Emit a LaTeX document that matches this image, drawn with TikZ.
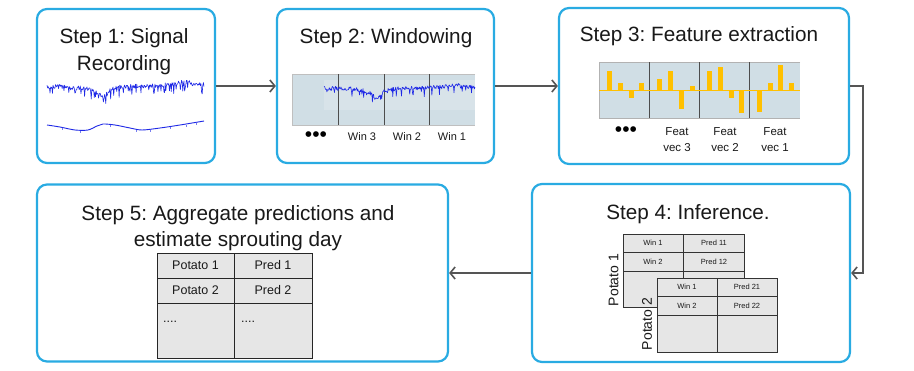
\documentclass[tikz,border=0pt]{standalone}
\usepackage{fontspec}
\setmainfont{Liberation Sans}
\usetikzlibrary{arrows.meta}
\definecolor{boxc}{RGB}{41,171,226}
\definecolor{arrc}{RGB}{85,85,85}
\definecolor{sigc}{RGB}{30,40,230}
\definecolor{panelc}{RGB}{208,222,229}
\definecolor{barc}{RGB}{255,192,0}
\definecolor{cellc}{RGB}{230,230,230}
\definecolor{txtc}{RGB}{25,25,25}
\frenchspacing
\begin{document}
\begin{tikzpicture}[x=1pt,y=-1pt,
  stepbox/.style={draw=boxc, line width=2.2pt, rounded corners=10pt, inner sep=0pt, fill=white},
  title/.style={font=\fontsize{20.7}{25}\selectfont, text=txtc, anchor=base, inner sep=0pt},
  arr/.style={draw=arrc, line width=1.6pt, -{Straight Barb[length=5pt,width=12pt]}},
  sig/.style={draw=sigc, line width=0.6pt, line join=round},
  lbl/.style={font=\fontsize{11}{13}\selectfont, text=txtc, inner sep=0pt},
  flbl/.style={font=\fontsize{11.5}{16}\selectfont, text=txtc, inner sep=0pt, align=center},
  dotlbl/.style={font=\fontsize{21}{22}\selectfont, text=black, inner sep=0pt},
  tiny/.style={font=\fontsize{7.5}{9}\selectfont, text=txtc, inner sep=0pt},
  potl/.style={font=\fontsize{14}{16}\selectfont, text=txtc, inner sep=0pt, rotate=90},
  cell/.style={font=\fontsize{12.5}{14}\selectfont, text=txtc, inner sep=0pt},
  grid/.style={draw=black!80, line width=0.7pt}
]
\pgfmathsetseed{7}
\useasboundingbox (0,0) rectangle (914,370);

% ---- step boxes
\node[stepbox, minimum width=178pt, minimum height=154pt] (s1) at (126,86) {};
\node[stepbox, minimum width=217pt, minimum height=154pt] (s2) at (385.5,86) {};
\node[stepbox, minimum width=290pt, minimum height=156pt] (s3) at (704,86) {};
\node[stepbox, minimum width=318pt, minimum height=178pt] (s4) at (691,273) {};
\node[stepbox, minimum width=411pt, minimum height=177pt] (s5) at (242.5,273) {};

% ---- connectors
\draw[arr] (s1.east) -- (s2.west);
\draw[arr] (s2.east) -- (s3.west);
\draw[arr] (s3.east) -- ++(13,0) |- (s4.east);
\draw[arr] (s4.west) -- (s5.east);

% ---- titles
\node[title] (t1a) at (124,43.5) {Step 1: Signal};
\node[title] (t1b) at (124,70) {Recording};
\node[title] (t2) at (386,43.5) {Step 2: Windowing};
\node[title] (t3) at (699,41) {Step 3: Feature extraction};
\node[title] (t4) at (688,219) {Step 4: Inference.};
\node[title] (t5a) at (238,220) {Step 5: Aggregate predictions and};
\node[title] (t5b) at (238,246) {estimate sprouting day};

% ---- step 1 signals
\draw[sig] plot[domain=47:204, samples=260, variable=\x]
  (\x, {86 + 9/(1+((\x-103)/5)^2) + 3/(1+((\x-95)/15)^2) - 4/(1+((\x-185)/15)^2) + 2.2*rand + (rnd>0.8)*9*rnd});
\draw[sig, line width=0.9pt] plot[smooth] coordinates {(47,125) (60,127) (75,130) (88,130) (97,126) (103,124) (115,125) (130,128) (142,130) (160,128) (180,125) (204,121)};
\foreach \tx/\ty in {62/127.5, 80/130.5, 110/125, 136/129.5, 150/129.5, 170/127, 186/124.5, 196/122.5}
  \draw[sigc!60, line width=0.4pt] (\tx,\ty) -- (\tx,\ty+2);

% ---- step 2 windows
\fill[panelc] (292,74) rectangle (475,125);
\fill[white, opacity=0.18] (324,80) rectangle (475,110);
\draw[gray!50, line width=0.6pt] (475,74) -- (292,74) -- (292,125) -- (475,125);
\draw[black!70, line width=0.6pt] (338,74) -- (338,125) (384,74) -- (384,125) (429,74) -- (429,125);
\draw[sig] plot[domain=324:475, samples=260, variable=\x]
  (\x, {88 + 9/(1+((\x-377)/4)^2) + 3/(1+((\x-372)/12)^2) - 3/(1+((\x-455)/12)^2) + 2.0*rand + (rnd>0.8)*8*rnd});
\node[dotlbl] (d2) at (316,137) {•••};
\node[lbl] (w3) at (362,137) {Win 3};
\node[lbl] (w2) at (407,137) {Win 2};
\node[lbl] (w1) at (452,137) {Win 1};

% ---- step 3 features
\fill[panelc] (599,62) rectangle (800,118);
\draw[gray!60, line width=0.6pt] (800,62) -- (599,62) -- (599,118) -- (800,118);
\draw[black!70, line width=0.6pt] (649,62) -- (649,118) (699,62) -- (699,118) (749,62) -- (749,118);
\draw[barc, line width=0.9pt] (599,90) -- (800,90);
\foreach \bx/\by in {609.3/70.7, 620.3/82.7, 631/98.3, 641.7/82.7,
                     659.3/79.3, 670.7/70.7, 681.3/109.3, 692/85.7,
                     709.3/70.7, 720/66.7, 731/98.3, 741.7/113.3,
                     759.3/112.3, 770/82.7, 780.3/65.3, 791.3/82.7}
  \fill[barc] (\bx-2.5,90) rectangle (\bx+2.5,\by);
\node[dotlbl] (d3) at (626,132) {•••};
\node[flbl] (f3) at (677,139.5) {Feat\\vec 3};
\node[flbl] (f2) at (725,139.5) {Feat\\vec 2};
\node[flbl] (f1) at (775,139.5) {Feat\\vec 1};

% ---- step 4 tables
\filldraw[grid, fill=cellc] (623,234) rectangle (744,307);
\draw[grid] (623,252) -- (744,252) (623,271) -- (744,271) (683,234) -- (683,307);
\node[tiny] (a11) at (653,243) {Win 1};
\node[tiny] (a12) at (714,243) {Pred 11};
\node[tiny] (a21) at (653,261.5) {Win 2};
\node[tiny] (a22) at (714,261.5) {Pred 12};
\node[potl] (p1) at (613.5,280) {Potato 1};
\filldraw[grid, fill=cellc] (657,278) rectangle (777,352);
\draw[grid] (657,296) -- (777,296) (657,315) -- (777,315) (717,278) -- (717,352);
\node[tiny] (b11) at (687,287) {Win 1};
\node[tiny] (b12) at (747,287) {Pred 21};
\node[tiny] (b21) at (687,305.5) {Win 2};
\node[tiny] (b22) at (747,305.5) {Pred 22};
\node[potl] (p2) at (647,324) {Potato 2};

% ---- step 5 table
\filldraw[draw=black!85, line width=0.9pt, fill=cellc] (157,253) rectangle (312,358);
\draw[draw=black!85, line width=0.9pt] (157,278) -- (312,278) (157,303) -- (312,303) (234,253) -- (234,358);
\node[cell] (c11) at (195.5,265.5) {Potato 1};
\node[cell] (c12) at (273,265.5) {Pred 1};
\node[cell] (c21) at (195.5,290.5) {Potato 2};
\node[cell] (c22) at (273,290.5) {Pred 2};
\node[cell, anchor=base west] (c31) at (163,322) {....};
\node[cell, anchor=base west] (c32) at (241,322) {....};
\end{tikzpicture}
\end{document}
